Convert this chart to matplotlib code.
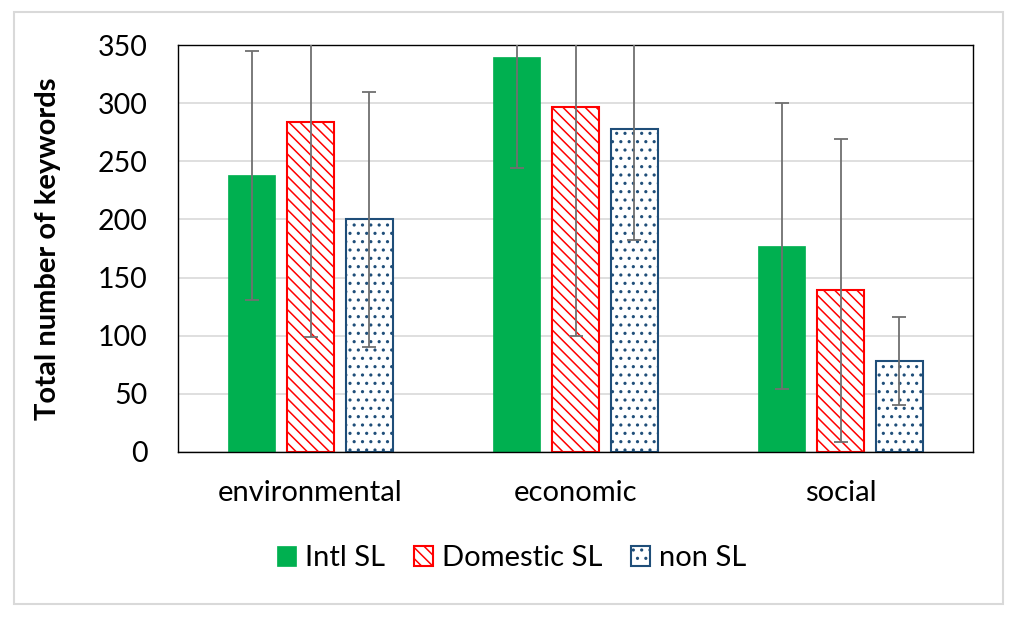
import numpy as np
from matplotlib import pyplot as plt
from matplotlib.patches import Rectangle

plt.rcParams['font.family'] = ['Lato', 'DejaVu Sans']
plt.rcParams['hatch.linewidth'] = 1.1

categories = ["environmental", "economic", "social"]
series = ["Intl SL", "Domestic SL", "non SL"]
intl = [238, 340, 177]
domestic = [284, 297, 139]
non_sl = [200, 278, 78]
intl_err = [107, 96, 123]
domestic_err = [185, 197, 130]
non_sl_err = [110, 96, 38]
yticks = [0, 50, 100, 150, 200, 250, 300, 350]

fig = plt.figure(figsize=(10.24, 6.19), dpi=100)
# outer chart border
fig.patches.append(Rectangle((14/1024, 1-604/619), 989/1024, 592/619, transform=fig.transFigure,
                             fill=False, edgecolor='#d9d9d9', linewidth=1.5))
ax = fig.add_axes([178/1024, 1-452/619, 795/1024, 407/619])

x = np.arange(len(categories))
w = 0.175
off = 0.222

ax.bar(x - off, intl, w, color='#00b050', edgecolor='#00b050', linewidth=0.5,
       label=series[0], zorder=2)
ax.bar(x, domestic, w, color='white', edgecolor='#ff0000', hatch='\\\\\\',
       linewidth=1.5, label=series[1], zorder=2)
ax.bar(x + off, non_sl, w, color='white', edgecolor='#1f4e79', hatch='..',
       linewidth=1.5, label=series[2], zorder=2)

ax.errorbar(x - off, intl, yerr=intl_err, fmt='none', ecolor='#707070', elinewidth=1.3,
            capsize=5, capthick=1.3, zorder=3)
ax.errorbar(x, domestic, yerr=domestic_err, fmt='none', ecolor='#707070', elinewidth=1.3,
            capsize=5, capthick=1.3, zorder=3)
ax.errorbar(x + off, non_sl, yerr=non_sl_err, fmt='none', ecolor='#707070', elinewidth=1.3,
            capsize=5, capthick=1.3, zorder=3)

ax.set_xlim(-0.5, 2.5)
ax.set_ylim(0, 350)
ax.set_yticks(yticks)
ax.set_xticks(x)
ax.set_xticklabels(categories, fontsize=21)
ax.tick_params(axis='y', labelsize=20.5, length=0, pad=22)
ax.tick_params(axis='x', length=0, pad=20)
ax.yaxis.grid(True, color='#d9d9d9', linewidth=1.2, zorder=0)
ax.set_axisbelow(True)
for s in ax.spines.values():
    s.set_linewidth(1.0)
    s.set_color('black')
ax.set_ylabel("Total number of keywords", fontsize=21, fontweight='bold', labelpad=26)

ax.legend(loc='upper center', bbox_to_anchor=(0.42, -0.165), ncol=3, frameon=False,
          fontsize=21, handlelength=0.65, handleheight=0.65, columnspacing=1.0,
          handletextpad=0.3)

plt.savefig("out.png", dpi=100)
